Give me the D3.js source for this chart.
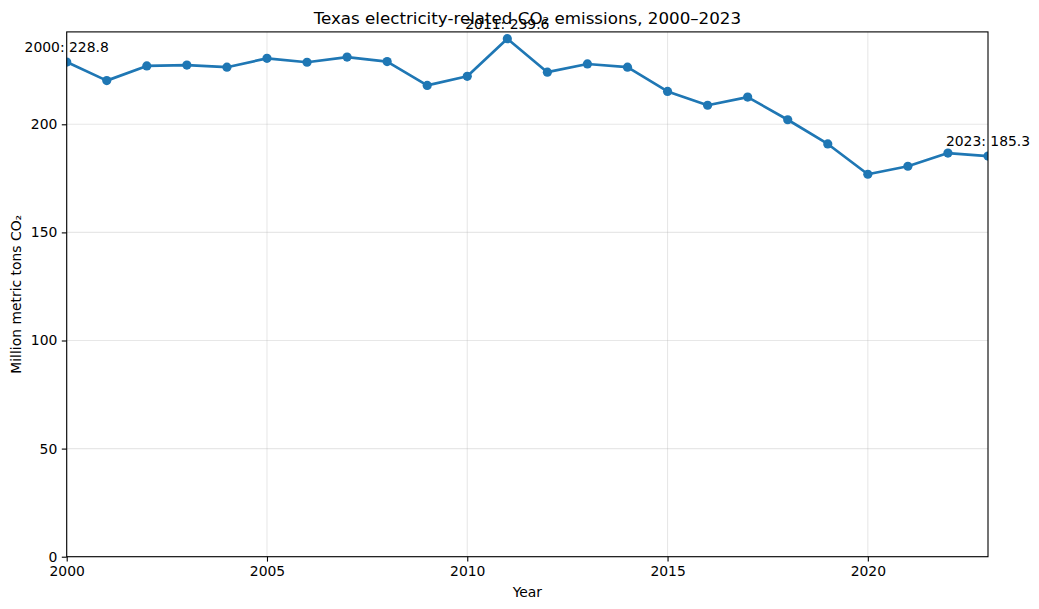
<!DOCTYPE html>
<html>
<head>
<meta charset="utf-8">
<script src="https://cdn.jsdelivr.net/npm/d3@7"></script>
<style>
  html, body { margin: 0; padding: 0; background: #fff; }
  svg { display: block; font-family: "DejaVu Sans", sans-serif; }
</style>
</head>
<body>
<svg id="chart" width="1039" height="609"></svg>
<script>
const years = [2000,2001,2002,2003,2004,2005,2006,2007,2008,2009,2010,2011,
               2012,2013,2014,2015,2016,2017,2018,2019,2020,2021,2022,2023];
const emissions = [228.8,220.2,227.0,227.4,226.4,230.5,228.7,231.1,229.0,218.0,222.2,239.6,
                   224.1,227.9,226.4,215.2,208.8,212.6,202.1,190.9,176.9,180.6,186.7,185.3];
const xTicks = [2000,2005,2010,2015,2020];
const yTicks = [0,50,100,150,200];
const annotatedYears = [2000,2011,2023];
const titleText = "Texas electricity-related CO\u2082 emissions, 2000\u20132023";
const xLabel = "Year";
const yLabel = "Million metric tons CO\u2082";

const W = 1039, H = 609;
const m = {left: 66.7, right: W - 988, top: 31.9, bottom: H - 556.7};
const svg = d3.select("#chart");

const maxV = d3.max(emissions), minV = d3.min(emissions);
const yTop = maxV + 0.05 * (maxV - minV);

const x = d3.scaleLinear().domain([2000, 2023]).range([m.left, W - m.right]);
const y = d3.scaleLinear().domain([0, yTop]).range([H - m.bottom, m.top]);

const fs = 13.9;

// grid
const g = svg.append("g");
g.selectAll("line.gx").data(xTicks).enter().append("line")
  .attr("x1", d => x(d)).attr("x2", d => x(d))
  .attr("y1", y(0)).attr("y2", y(yTop))
  .attr("stroke", "#b0b0b0").attr("stroke-opacity", 0.3).attr("stroke-width", 1.1);
g.selectAll("line.gy").data(yTicks).enter().append("line")
  .attr("y1", d => y(d)).attr("y2", d => y(d))
  .attr("x1", x(2000)).attr("x2", x(2023))
  .attr("stroke", "#b0b0b0").attr("stroke-opacity", 0.3).attr("stroke-width", 1.1);

// clip
svg.append("clipPath").attr("id", "clip").append("rect")
  .attr("x", m.left).attr("y", m.top)
  .attr("width", W - m.left - m.right).attr("height", H - m.top - m.bottom);

const data = years.map((yr, i) => ({yr, v: emissions[i]}));
const plot = svg.append("g").attr("clip-path", "url(#clip)");
plot.append("path").datum(data)
  .attr("fill", "none").attr("stroke", "#1f77b4").attr("stroke-width", 2.7)
  .attr("stroke-linejoin", "round")
  .attr("d", d3.line().x(d => x(d.yr)).y(d => y(d.v)));
plot.selectAll("circle").data(data).enter().append("circle")
  .attr("cx", d => x(d.yr)).attr("cy", d => y(d.v)).attr("r", 4.6)
  .attr("fill", "#1f77b4");

// axes
const xAxis = d3.axisBottom(x).tickValues(xTicks).tickFormat(d3.format("d")).tickSize(4.9).tickPadding(4.5);
const yAxis = d3.axisLeft(y).tickValues(yTicks).tickFormat(d3.format("d")).tickSize(4.9).tickPadding(4.5);
const gx = svg.append("g").attr("transform", `translate(0,${H - m.bottom})`).call(xAxis);
const gy = svg.append("g").attr("transform", `translate(${m.left},0)`).call(yAxis);
[gx, gy].forEach(a => {
  a.select(".domain").remove();
  a.selectAll("text").attr("font-size", fs).attr("font-family", "DejaVu Sans").attr("fill", "#000");
  a.selectAll("line").attr("stroke", "#000").attr("stroke-width", 1.1);
});

// frame
svg.append("rect").attr("x", m.left).attr("y", m.top)
  .attr("width", W - m.left - m.right).attr("height", H - m.top - m.bottom)
  .attr("fill", "none").attr("stroke", "#000").attr("stroke-width", 1.1);

// annotations
svg.selectAll("text.ann").data(data.filter(d => annotatedYears.includes(d.yr))).enter()
  .append("text").attr("class", "ann")
  .attr("x", d => x(d.yr)).attr("y", d => y(d.v) - 10)
  .attr("text-anchor", "middle").attr("font-size", fs)
  .text(d => `${d.yr}: ${d.v.toFixed(1)}`);

// title & labels
svg.append("text").attr("x", (m.left + W - m.right) / 2).attr("y", 24)
  .attr("text-anchor", "middle").attr("font-size", 16.7).text(titleText);
svg.append("text").attr("x", (m.left + W - m.right) / 2).attr("y", 597)
  .attr("text-anchor", "middle").attr("font-size", fs).text(xLabel);
svg.append("text").attr("transform", `translate(20.5,${(m.top + H - m.bottom) / 2}) rotate(-90)`)
  .attr("text-anchor", "middle").attr("font-size", fs).text(yLabel);
</script>
</body>
</html>
